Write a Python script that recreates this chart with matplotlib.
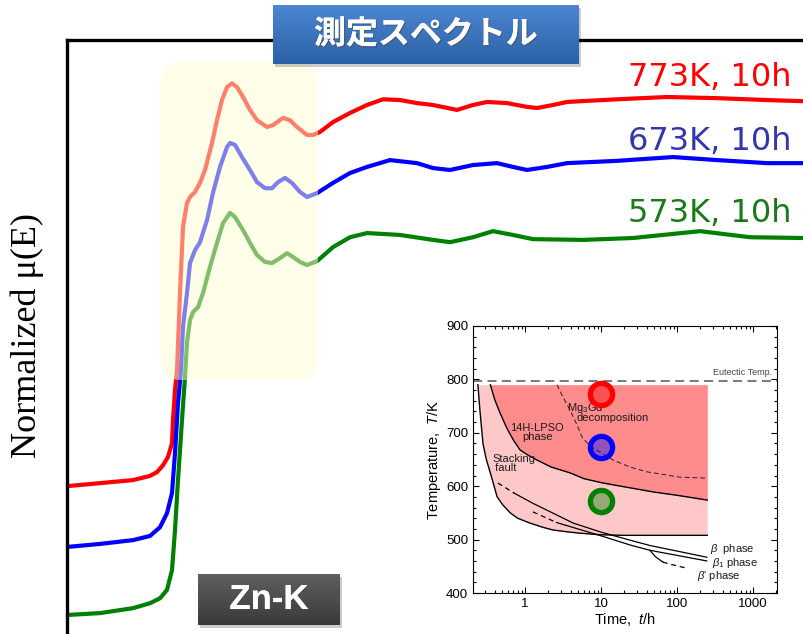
import numpy as np
import matplotlib
matplotlib.use("Agg")
import matplotlib.pyplot as plt
import matplotlib.patheffects as pe
from matplotlib.patches import FancyBboxPatch, Rectangle
from matplotlib.transforms import IdentityTransform
from matplotlib.ticker import MultipleLocator, FixedLocator, LogLocator, FuncFormatter, NullFormatter

plt.rcParams['font.family'] = ['Liberation Sans', 'DejaVu Sans']
plt.rcParams['mathtext.fontset'] = 'custom'
plt.rcParams['mathtext.rm'] = 'Liberation Sans'
plt.rcParams['mathtext.it'] = 'Liberation Sans:italic'

# Zn K-edge XANES, normalized mu(E), energy in eV
energy_773 = [9630, 9638.25, 9646.5, 9650.75, 9652.5, 9654, 9655.25, 9656.25, 9656.5, 9657,
              9657.5, 9658.25, 9659, 9660, 9660.75, 9662, 9663.25, 9664.5, 9666.25, 9667.5,
              9668.75, 9670, 9671.25, 9672.5, 9674, 9675.75, 9677.5, 9680, 9681.5, 9684,
              9685.75, 9687.5, 9690, 9691.5, 9693.25, 9696.5, 9700.75, 9705, 9709, 9713.25,
              9717.5, 9721.5, 9727.5, 9731.5, 9735, 9740, 9745, 9747.5, 9751.5, 9755,
              9767.5, 9780, 9792.5, 9805, 9814]
mu_773 = [0.004, 0.012, 0.02, 0.031, 0.041, 0.059, 0.081, 0.117, 0.178, 0.257,
          0.309, 0.512, 0.686, 0.749, 0.765, 0.778, 0.802, 0.836, 0.907, 0.967,
          1.02, 1.054, 1.064, 1.054, 1.028, 0.994, 0.967, 0.949, 0.954, 0.973,
          0.967, 0.949, 0.928, 0.928, 0.936, 0.962, 0.986, 1.007, 1.022, 1.02,
          1.012, 1.007, 0.994, 1.007, 1.015, 1.012, 1.002, 0.999, 1.007, 1.015,
          1.022, 1.028, 1.025, 1.02, 1.017]

energy_673 = [9630, 9638.25, 9646.5, 9650.75, 9653.25, 9655, 9656.25, 9657, 9657.75, 9658.5,
              9659, 9660, 9660.75, 9662, 9663.25, 9665, 9666.5, 9668.25, 9670, 9670.75,
              9672, 9673.75, 9675.75, 9677.5, 9679.5, 9681.25, 9682.75, 9684.5, 9686.25, 9688.25,
              9690, 9692.5, 9696.5, 9700.75, 9705, 9710.75, 9717.5, 9721.5, 9725.75, 9731.5,
              9737.5, 9741.5, 9745, 9750, 9755, 9767.5, 9781.5, 9792.5, 9805, 9814]
mu_673 = [0.004, 0.012, 0.022, 0.033, 0.056, 0.093, 0.146, 0.251, 0.383, 0.469,
          0.583, 0.672, 0.751, 0.785, 0.806, 0.864, 0.936, 1.004, 1.056, 1.067,
          1.062, 1.03, 0.996, 0.964, 0.948, 0.948, 0.964, 0.975, 0.962, 0.938,
          0.925, 0.935, 0.962, 0.988, 1.004, 1.022, 1.014, 1.001, 0.996, 1.009,
          1.014, 1.004, 0.996, 1.004, 1.014, 1.02, 1.03, 1.022, 1.014, 1.014]

energy_573 = [9630, 9638.25, 9646.5, 9650.75, 9653.25, 9655, 9656.25, 9657, 9657.75, 9658.75,
              9659.5, 9660, 9660.75, 9661.5, 9662.75, 9664, 9665.75, 9667.5, 9669, 9670.75,
              9672, 9674, 9675.75, 9677.5, 9679.5, 9681.25, 9683.25, 9685, 9686.5, 9688.25,
              9690, 9692.5, 9696.5, 9700.75, 9705, 9713.25, 9721.5, 9725.75, 9731.5, 9736.5,
              9741.5, 9746.5, 9759, 9771.5, 9788.25, 9800.75, 9814]
mu_573 = [-0.005, 0.0, 0.013, 0.026, 0.039, 0.061, 0.113, 0.218, 0.35, 0.508,
          0.621, 0.711, 0.771, 0.792, 0.805, 0.842, 0.911, 0.974, 1.026, 1.053,
          1.042, 1.008, 0.974, 0.942, 0.924, 0.921, 0.934, 0.947, 0.937, 0.924,
          0.916, 0.926, 0.963, 0.989, 1.0, 0.995, 0.982, 0.976, 0.989, 1.005,
          0.995, 0.984, 0.982, 0.987, 1.005, 0.989, 0.987]

spectra_labels = ['773K, 10h', '673K, 10h', '573K, 10h']
spectra_offsets = [0.33, 0.17, 0.0]

# phase diagram (time in h, temperature in K)
t_stacking = [0.24, 0.255, 0.28, 0.31, 0.35, 0.43, 0.51, 0.64, 0.8, 1.16, 1.72, 2.33,
              3.9, 5.3, 10, 20, 250]
T_stacking = [790, 743, 680, 650, 625, 580, 565, 550, 540, 531, 523, 518,
              514, 512, 509, 508, 508]
t_lpso = [0.35, 0.4, 0.47, 0.58, 0.7, 0.86, 1.1, 1.44, 2.2, 3.9, 6, 10.6, 24, 50, 100, 250]
T_lpso = [790, 762, 737, 708, 687, 668, 658, 649, 636, 625, 614, 606, 597, 589, 583, 574]
t_mg3gd = [2.63, 3.16, 3.9, 4.83, 5.63, 7.17, 9.7, 14.4, 24, 40, 109, 250]
T_mg3gd = [790, 767, 743, 715, 692, 675, 664, 649, 636, 627, 617, 615]
t_beta = [0.44, 0.72, 1.27, 4.3, 10, 24, 44, 247]
T_beta = [606, 587, 568, 531, 514, 499, 489, 467]
t_beta1 = [1.27, 2.6, 10.6, 24, 44, 247]
T_beta1 = [552, 532, 506, 490, 480, 460]
t_beta_prime = [44, 52, 65, 81, 139]
T_beta_prime = [480, 468, 458, 454, 446]
T_eutectic = 797
T_region_top = 790
anneal_time = [10, 10, 10]
anneal_temp = [773, 673, 573]

W, H = 804, 634
fig = plt.figure(figsize=(W / 100, H / 100), dpi=100)

# main spectra axes: only left and top frame, running off the page
ax = fig.add_axes([67 / W, 0, 1 - 67 / W, 1 - 40 / H])
line_colors = ['#ff0000', '#0000ff', '#008000']
text_colors = ['#ff0000', '#3535b0', '#1a7a1a']
for e, mu, off, c in zip([energy_773, energy_673, energy_573],
                         [mu_773, mu_673, mu_573], spectra_offsets, line_colors):
    ax.plot(e, np.array(mu) + off, color=c, lw=3, solid_joinstyle='round',
            solid_capstyle='round')
ax.set_xlim(9630, 9814.25)
ax.set_ylim(-0.055, 1.508)
for side in ['right', 'bottom']:
    ax.spines[side].set_visible(False)
for side in ['left', 'top']:
    ax.spines[side].set_linewidth(2.4)
ax.set_xticks([])
ax.set_yticks([])

fig.text(27 / W, 1 - 335 / H, 'Normalized μ(E)', rotation=90, ha='center', va='center',
         fontsize=26, family=['Liberation Serif', 'DejaVu Serif'])

for lab, c, yb in zip(spectra_labels, text_colors, [86, 150, 222]):
    fig.text(792 / W, 1 - yb / H, lab, color=c, ha='right', va='baseline',
             fontsize=23, family='DejaVu Sans')

# translucent yellow highlight over the edge region
fig.patches.append(FancyBboxPatch((160, H - 380), 158, 318,
                                  boxstyle='round,pad=0,rounding_size=20',
                                  transform=IdentityTransform(), facecolor=(1.0, 0.996, 0.83),
                                  edgecolor='none', alpha=0.5, zorder=1))


def gradient_box(x0, y0, x1, y1, top, bottom, text, **kw):
    fig.patches.append(Rectangle((x0 + 2, H - y1 - 3), x1 - x0, y1 - y0,
                                 transform=IdentityTransform(), facecolor='black',
                                 alpha=0.2, edgecolor='none', zorder=4))
    bax = fig.add_axes([x0 / W, 1 - y1 / H, (x1 - x0) / W, (y1 - y0) / H], zorder=5)
    g = np.linspace(0, 1, 64)[:, None, None]
    img = np.array(top)[None, None, :] * (1 - g) + np.array(bottom)[None, None, :] * g
    bax.imshow(img, extent=(0, 1, 0, 1), aspect='auto')
    bax.axis('off')
    bax.text(0.5, 0.5, text, color='white', ha='center', va='center',
             transform=bax.transAxes,
             path_effects=[pe.withSimplePatchShadow(offset=(1, -1), alpha=0.5), pe.Normal()],
             **kw)


gradient_box(273, 5, 579, 64, (0.30, 0.53, 0.82), (0.17, 0.38, 0.65), '測定スペクトル',
             fontsize=23, fontweight='bold', family=['Noto Sans CJK JP', 'DejaVu Sans'])
gradient_box(198, 574, 340, 625, (0.37, 0.37, 0.37), (0.23, 0.23, 0.23), 'Zn-K',
             fontsize=25, fontweight='bold', family='Liberation Sans')

# inset: time-temperature phase diagram
ins = fig.add_axes([473 / W, 1 - 593 / H, 304 / W, 267 / H], zorder=3)
ins.fill_between(t_stacking, T_stacking, T_region_top, color='#ffc8c8', lw=0)
ins.fill_between(t_lpso, T_lpso, T_region_top, color='#ff8c8c', lw=0)
ins.axhline(T_eutectic, color='#707070', lw=1.3, ls=(0, (5, 3)))
ins.plot(t_stacking, T_stacking, color='black', lw=1.0)
ins.plot(t_lpso, T_lpso, color='black', lw=1.0)
ins.plot(t_mg3gd, T_mg3gd, color='#222222', lw=0.7, ls=(0, (5, 3)))
ins.plot(t_beta[:2], T_beta[:2], color='black', lw=0.9, ls=(0, (4, 3)))
ins.plot(t_beta[1:], T_beta[1:], color='black', lw=0.9)
ins.plot(t_beta1[:2], T_beta1[:2], color='black', lw=0.9, ls=(0, (4, 3)))
ins.plot(t_beta1[1:], T_beta1[1:], color='black', lw=0.9)
ins.plot(t_beta_prime[:3], T_beta_prime[:3], color='black', lw=0.9)
ins.plot(t_beta_prime[2:], T_beta_prime[2:], color='black', lw=0.9, ls=(0, (4, 3)))

for t, T, c in zip(anneal_time, anneal_temp, line_colors):
    ins.plot(t, T, 'o', ms=16, mew=3.8, mec=c, mfc=matplotlib.colors.to_rgba(c, 0.42),
             zorder=5)

txt = dict(fontsize=8, color='#1a1a1a')
ins.text(1.45, 700, '14H-LPSO\nphase', ha='center', va='center', linespacing=0.9, **txt)
ins.text(0.37, 643, 'Stacking\n fault', ha='left', va='center', linespacing=0.9, **txt)
ins.text(3.55, 746, r'Mg$_3$Gd', ha='left', va='center', **txt)
ins.text(4.8, 728, 'decomposition', ha='left', va='center', **txt)
ins.text(1780, 812, 'Eutectic Temp.', ha='right', va='center', fontsize=6.5, color='#444444')
ins.text(270, 482, r'$\beta$  phase', ha='left', va='center', **txt)
ins.text(285, 456, r'$\beta_1$ phase', ha='left', va='center', **txt)
ins.text(182, 432, r"$\beta$' phase", ha='left', va='center', **txt)

ins.set_xscale('log')
ins.set_xlim(0.207, 2070)
ins.set_ylim(400, 900)
ins.xaxis.set_major_locator(FixedLocator([1, 10, 100, 1000]))
ins.xaxis.set_major_formatter(FuncFormatter(lambda v, p: f'{v:g}'))
ins.xaxis.set_minor_locator(LogLocator(base=10, subs=np.arange(2, 10)))
ins.xaxis.set_minor_formatter(NullFormatter())
ins.yaxis.set_major_locator(MultipleLocator(100))
ins.yaxis.set_minor_locator(MultipleLocator(20))
ins.tick_params(which='both', direction='in', top=True, right=True, labelsize=9.5, width=0.8)
ins.tick_params(which='major', length=4)
ins.tick_params(which='minor', length=2)
for s in ins.spines.values():
    s.set_linewidth(0.8)
ins.set_xlabel('Time,  $t$/h', fontsize=10.5, labelpad=1)
ins.set_ylabel('Temperature,  $T$/K', fontsize=10.5, labelpad=2)

fig.savefig('out.png', dpi=100)
